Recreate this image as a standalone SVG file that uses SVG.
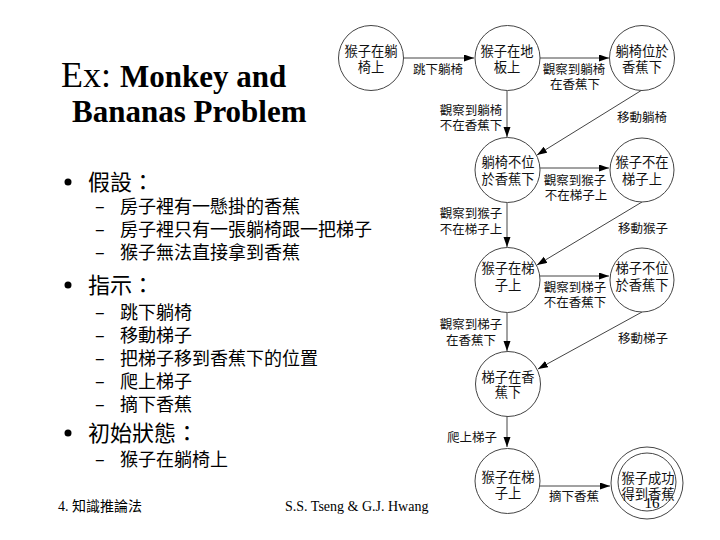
<svg xmlns="http://www.w3.org/2000/svg" width="720" height="540" viewBox="0 0 720 540">
<style>
.bg{fill:#fff}
.node{fill:#fff;stroke:#444;stroke-width:1}
.nt{font-family:"Noto Sans CJK TC","Noto Sans CJK SC",sans-serif;font-size:13.3px;fill:#111;text-anchor:middle}
.el{font-family:"Noto Sans CJK TC","Noto Sans CJK SC",sans-serif;font-size:12.5px;fill:#111;text-anchor:middle}
.edge{stroke:#444;stroke-width:1;fill:none;marker-end:url(#ah)}
.h1{font-family:"Noto Sans CJK TC","Noto Sans CJK SC",sans-serif;font-size:22px;fill:#000}
.h2{font-family:"Noto Sans CJK TC","Noto Sans CJK SC",sans-serif;font-size:18px;fill:#000}
.ti{font-family:"Liberation Serif",serif;fill:#000}
.ft{font-family:"Liberation Serif","Noto Sans CJK TC",serif;font-size:14px;fill:#000}
</style>
<defs>
<marker id="ah" markerWidth="10" markerHeight="8" refX="10" refY="3.5" orient="auto" markerUnits="userSpaceOnUse">
<path d="M0,0 L10,3.5 L0,7 z" fill="#000"/>
</marker>
</defs>
<rect class="bg" x="0" y="0" width="720" height="540"/>

<g id="title">
<text class="ti" x="61" y="87" font-size="36">Ex: <tspan font-weight="bold" font-size="31">Monkey and</tspan></text>
<text class="ti" x="72" y="122" font-size="31" font-weight="bold">Bananas Problem</text>
</g>

<g id="bullets">
<circle cx="68" cy="182" r="3.5" fill="#000"/>
<text class="h1" x="88" y="190">假設：</text>
<text class="h2" x="95" y="213">–</text><text class="h2" x="120" y="213">房子裡有一懸掛的香蕉</text>
<text class="h2" x="95" y="236">–</text><text class="h2" x="120" y="236">房子裡只有一張躺椅跟一把梯子</text>
<text class="h2" x="95" y="259">–</text><text class="h2" x="120" y="259">猴子無法直接拿到香蕉</text>
<circle cx="68" cy="285" r="3.5" fill="#000"/>
<text class="h1" x="88" y="293">指示：</text>
<text class="h2" x="95" y="319">–</text><text class="h2" x="120" y="319">跳下躺椅</text>
<text class="h2" x="95" y="342">–</text><text class="h2" x="120" y="342">移動梯子</text>
<text class="h2" x="95" y="365">–</text><text class="h2" x="120" y="365">把梯子移到香蕉下的位置</text>
<text class="h2" x="95" y="388">–</text><text class="h2" x="120" y="388">爬上梯子</text>
<text class="h2" x="95" y="411">–</text><text class="h2" x="120" y="411">摘下香蕉</text>
<circle cx="68" cy="433" r="3.5" fill="#000"/>
<text class="h1" x="88" y="441">初始狀態：</text>
<text class="h2" x="95" y="466">–</text><text class="h2" x="120" y="466">猴子在躺椅上</text>
</g>

<g id="footer">
<text class="ft" x="58" y="511">4. 知識推論法</text>
<text class="ft" x="285" y="511">S.S. Tseng &amp; G.J. Hwang</text>
</g>

<g id="connectors">
<line class="edge" x1="404" y1="58" x2="474" y2="58"/>
<line class="edge" x1="540" y1="58" x2="609" y2="58"/>
<line class="edge" x1="507" y1="91" x2="507" y2="137"/>
<line class="edge" x1="642" y1="90" x2="537" y2="155"/>
<line class="edge" x1="540" y1="168" x2="609" y2="168"/>
<line class="edge" x1="507" y1="203" x2="507" y2="247"/>
<line class="edge" x1="642" y1="202" x2="537" y2="265"/>
<line class="edge" x1="540" y1="276" x2="609" y2="276"/>
<line class="edge" x1="507" y1="313" x2="507" y2="351"/>
<line class="edge" x1="642" y1="312" x2="538" y2="369"/>
<line class="edge" x1="507" y1="416" x2="507" y2="447"/>
<line class="edge" x1="540" y1="486" x2="610" y2="486"/>
<text class="el" x="438" y="74">跳下躺椅</text>
<text class="el" x="574" y="74">觀察到躺椅</text><text class="el" x="575" y="89">在香蕉下</text>
<text class="el" x="471" y="115">觀察到躺椅</text><text class="el" x="471" y="130">不在香蕉下</text>
<text class="el" x="642" y="122">移動躺椅</text>
<text class="el" x="575" y="185">觀察到猴子</text><text class="el" x="576" y="200">不在梯子上</text>
<text class="el" x="471" y="218">觀察到猴子</text><text class="el" x="471" y="234">不在梯子上</text>
<text class="el" x="643" y="233">移動猴子</text>
<text class="el" x="575" y="292">觀察到梯子</text><text class="el" x="575" y="307">不在香蕉下</text>
<text class="el" x="471" y="329">觀察到梯子</text><text class="el" x="471" y="345">在香蕉下</text>
<text class="el" x="643" y="343">移動梯子</text>
<text class="el" x="472" y="442">爬上梯子</text>
<text class="el" x="574" y="501">摘下香蕉</text>
</g>

<g id="n1"><circle class="node" cx="371" cy="58" r="32.5"/><text class="nt" x="371" y="56">猴子在躺</text><text class="nt" x="371" y="72">椅上</text></g>
<g id="n2"><circle class="node" cx="507.5" cy="58" r="32.5"/><text class="nt" x="507" y="56">猴子在地</text><text class="nt" x="507" y="72">板上</text></g>
<g id="n3"><circle class="node" cx="642" cy="58" r="32.5"/><text class="nt" x="642" y="56">躺椅位於</text><text class="nt" x="642" y="72">香蕉下</text></g>
<g id="n4"><circle class="node" cx="507.5" cy="170" r="32.5"/><text class="nt" x="508" y="167">躺椅不位</text><text class="nt" x="508" y="184">於香蕉下</text></g>
<g id="n5"><circle class="node" cx="642" cy="170" r="32"/><text class="nt" x="642" y="167">猴子不在</text><text class="nt" x="642" y="184">梯子上</text></g>
<g id="n6"><circle class="node" cx="507.5" cy="280" r="32.5"/><text class="nt" x="508" y="273">猴子在梯</text><text class="nt" x="508" y="290">子上</text></g>
<g id="n7"><circle class="node" cx="642" cy="280" r="32"/><text class="nt" x="642" y="273">梯子不位</text><text class="nt" x="642" y="290">於香蕉下</text></g>
<g id="n8"><circle class="node" cx="508" cy="384" r="32.5"/><text class="nt" x="508" y="382">梯子在香</text><text class="nt" x="508" y="397">蕉下</text></g>
<g id="n9"><circle class="node" cx="507.5" cy="481" r="32.5"/><text class="nt" x="508" y="482">猴子在梯</text><text class="nt" x="508" y="498">子上</text></g>
<g id="n10"><circle class="node" cx="647" cy="483" r="36"/><circle class="node" cx="647" cy="482" r="29"/><text class="nt" x="648" y="483">猴子成功</text><text class="nt" x="648" y="499">得到香蕉</text></g>

<text class="ti" x="652" y="508" font-size="15" text-anchor="middle">16</text>
</svg>
